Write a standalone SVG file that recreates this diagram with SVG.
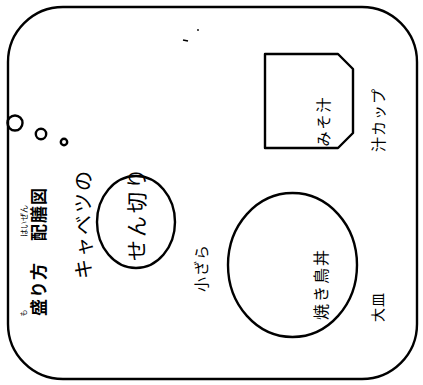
<svg xmlns="http://www.w3.org/2000/svg" width="423" height="385" viewBox="0 0 423 385">
<style>
.ln{fill:none;stroke:#000;stroke-width:2.4;stroke-linejoin:round}
.t{font-family:"Noto Sans CJK JP","Noto Sans CJK SC",sans-serif;fill:#000;text-anchor:middle;dominant-baseline:central}
.b{font-weight:bold}
</style>
<rect width="423" height="385" fill="#fff"/>
<g id="tray">
<rect class="ln" x="8" y="7" width="409" height="372" rx="55" ry="55" stroke-width="2.8"/>
<circle class="ln" cx="15" cy="123" r="7.5" stroke-width="2.2"/>
<circle class="ln" cx="41" cy="134" r="5.2" stroke-width="2.2"/>
<circle class="ln" cx="64" cy="142" r="3.2" stroke-width="2"/>
<path d="M183 40 L188 41" stroke="#000" stroke-width="1.6"/>
<circle cx="198" cy="30" r="0.9" fill="#000"/>
</g>
<g id="title">
<text class="t b" font-size="17" letter-spacing="1" transform="translate(37,289) rotate(-90)">盛り方</text>
<text class="t" font-size="7" transform="translate(23,313) rotate(-90)">も</text>
<text class="t b" font-size="17" letter-spacing="1" transform="translate(37,214) rotate(-90)">配膳図</text>
<text class="t" font-size="8" transform="translate(23,221) rotate(-90)">はいぜん</text>
</g>
<g id="kozara">
<ellipse class="ln" cx="136" cy="222" rx="39" ry="46"/>
<text class="t" font-size="20" letter-spacing="2" transform="translate(82,224) rotate(-90)">キャベツの</text>
<text class="t" font-size="21" letter-spacing="3" transform="translate(135,213) rotate(-90)">せん切り</text>
<text class="t" font-size="15" letter-spacing="1" transform="translate(200,268) rotate(-90)">小ざら</text>
</g>
<g id="oozara">
<ellipse class="ln" cx="292.5" cy="265" rx="64.5" ry="72"/>
<text class="t" font-size="16" letter-spacing="2" transform="translate(320,284) rotate(-90)">焼き鳥丼</text>
<text class="t" font-size="14" letter-spacing="1" transform="translate(377,307) rotate(-90)">大皿</text>
</g>
<g id="shirucup">
<path class="ln" d="M265 54 H338 L353 69 V133 L338 148 H265 Z"/>
<text class="t" font-size="15" letter-spacing="2" transform="translate(322,121) rotate(-90)">みそ汁</text>
<text class="t" font-size="15" letter-spacing="1" transform="translate(377,120) rotate(-90)">汁カップ</text>
</g>
<g id="connectors"></g>
</svg>
